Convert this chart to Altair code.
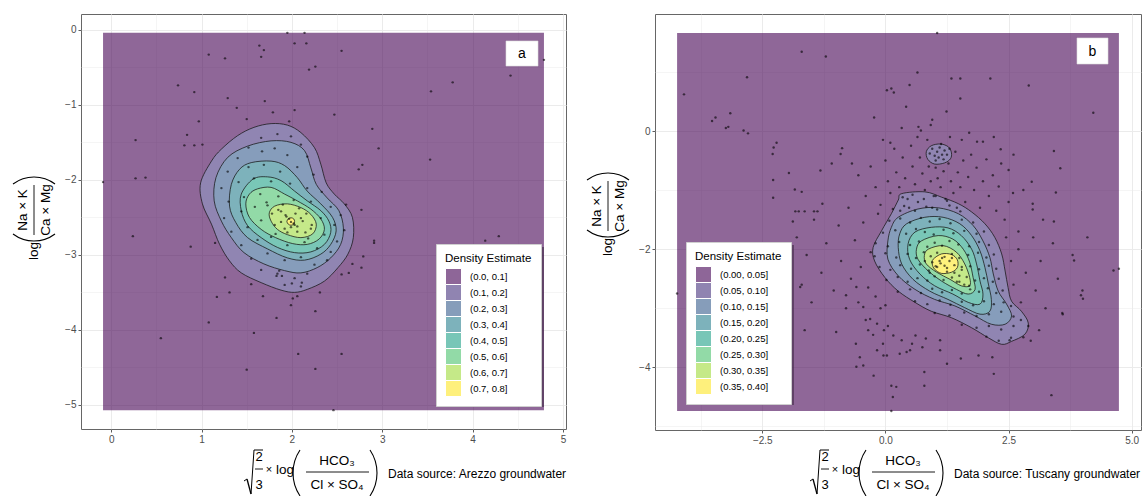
import altair as alt
import pandas as pd

FONT = "Liberation Sans"
VIRIDIS = ["#440154", "#46337E", "#365C8D", "#277F8E", "#1FA187", "#4AC16D", "#9FDA3A", "#FDE725"]
A_BANDS = ["(0.0, 0.1]", "(0.1, 0.2]", "(0.2, 0.3]", "(0.3, 0.4]",
           "(0.4, 0.5]", "(0.5, 0.6]", "(0.6, 0.7]", "(0.7, 0.8]"]
B_BANDS = ["(0.00, 0.05]", "(0.05, 0.10]", "(0.10, 0.15]", "(0.15, 0.20]",
           "(0.20, 0.25]", "(0.25, 0.30]", "(0.30, 0.35]", "(0.35, 0.40]"]
A_CAPTION = "Data source: Arezzo groundwater"
B_CAPTION = "Data source: Tuscany groundwater"

# ---------------- panel a: Arezzo ----------------
A_POINTS = [
    (1.95, -0.04), (2.14, -0.04), (1.64, -0.21), (1.69, -0.27), (2.03, -0.18), (2.16, -0.18),
    (1.66, -0.36), (2.55, -0.28), (1.08, -0.33), (1.26, -0.38), (2.19, -0.53), (2.26, -0.49),
    (4.79, -0.40), (4.42, -0.61), (3.78, -0.70), (0.74, -0.74), (0.92, -0.83), (3.54, -0.82),
    (1.29, -0.91), (1.70, -0.95), (1.39, -1.04), (1.79, -1.10), (2.03, -1.07), (2.47, -1.13),
    (1.50, -1.19), (1.97, -1.22), (0.97, -1.22), (2.89, -1.32), (0.84, -1.40), (2.96, -1.58),
    (0.81, -1.54), (0.92, -1.54), (1.01, -1.53), (3.53, -1.73), (0.27, -1.47), (2.78, -1.80),
    (2.74, -1.86), (-0.09, -2.03), (0.27, -1.98), (0.38, -1.97), (2.60, -2.33), (2.77, -2.40),
    (2.91, -2.81), (0.24, -2.75), (4.14, -2.81), (4.29, -2.75),
    (0.88, -2.89), (1.15, -2.84), (1.26, -3.30), (1.31, -3.50), (1.17, -3.56), (1.68, -3.55),
    (1.55, -3.39), (1.86, -3.21), (1.83, -3.28), (1.89, -3.28), (2.00, -3.38), (2.11, -3.37),
    (2.06, -3.55), (2.01, -3.58), (1.99, -3.67), (2.31, -3.50), (2.55, -3.26), (2.63, -3.24),
    (2.67, -3.12), (2.77, -3.17), (2.79, -3.02), (2.91, -2.84), (1.08, -3.90), (0.55, -4.11),
    (1.58, -4.04), (1.83, -3.84), (2.26, -3.75), (2.07, -4.32), (2.55, -4.32), (1.50, -4.53),
    (2.26, -4.52), (2.46, -5.07),
    (1.66, -1.44), (1.84, -1.39), (1.99, -1.42), (1.52, -1.57), (2.10, -1.53), (1.40, -1.71),
    (1.67, -1.62), (1.81, -1.58), (1.95, -1.67), (2.17, -1.69), (1.29, -1.89), (1.52, -1.83),
    (1.69, -1.80), (1.87, -1.89), (2.06, -1.83), (2.24, -1.93), (1.22, -2.11), (1.41, -2.03),
    (1.58, -1.98), (1.77, -2.02), (1.98, -2.05), (2.17, -2.11), (2.33, -2.16), (1.30, -2.29),
    (1.47, -2.23), (1.65, -2.19), (1.85, -2.22), (2.02, -2.27), (2.21, -2.29), (2.43, -2.36),
    (2.54, -2.47), (1.25, -2.51), (1.44, -2.42), (1.59, -2.36), (1.73, -2.34), (1.88, -2.42),
    (1.99, -2.56), (1.94, -2.49), (2.03, -2.60), (2.10, -2.51), (2.16, -2.45), (2.32, -2.51),
    (2.47, -2.60), (2.58, -2.67), (1.33, -2.69), (1.51, -2.63), (1.66, -2.54), (1.81, -2.60),
    (1.92, -2.65), (2.06, -2.69), (2.21, -2.65), (2.36, -2.73), (2.50, -2.82), (1.44, -2.87),
    (1.62, -2.80), (1.77, -2.76), (1.95, -2.87), (2.14, -2.83), (2.28, -2.91), (2.43, -2.96),
    (1.55, -3.05), (1.73, -2.98), (1.92, -3.07), (2.10, -3.03), (2.25, -3.13), (2.39, -3.07),
    (1.66, -3.20), (1.84, -3.25), (2.03, -3.31), (2.17, -3.25), (1.92, -3.40), (2.10, -3.42),
    (1.97, -2.52), (2.02, -2.58), (1.93, -2.47), (2.06, -2.62), (1.88, -2.56), (2.12, -2.55),
    (1.99, -2.63), (2.04, -2.45), (1.85, -2.40), (2.15, -2.70), (1.78, -2.45), (2.08, -2.38),
    (1.95, -2.70), (2.22, -2.60), (1.72, -2.30), (1.90, -2.33), (2.18, -2.78), (1.82, -2.72),
]

# contour polygons (level index, vertices in data units)
A_CONTOURS = [
    (1, [(1.77, -1.25), (1.95, -1.27), (2.10, -1.37), (2.25, -1.57), (2.32, -1.79), (2.38, -2.04),
         (2.47, -2.19), (2.58, -2.32), (2.67, -2.50), (2.68, -2.77), (2.62, -2.99), (2.51, -3.17),
         (2.36, -3.35), (2.17, -3.46), (2.03, -3.50), (1.88, -3.47), (1.66, -3.37), (1.44, -3.24),
         (1.31, -3.08), (1.20, -2.86), (1.11, -2.59), (1.01, -2.32), (0.99, -2.04), (1.11, -1.75),
         (1.22, -1.59), (1.40, -1.41), (1.58, -1.30)]),
    (2, [(1.51, -1.55), (1.77, -1.48), (1.99, -1.50), (2.14, -1.61), (2.21, -1.84), (2.27, -2.06),
         (2.39, -2.24), (2.52, -2.41), (2.57, -2.64), (2.54, -2.86), (2.43, -3.04), (2.28, -3.17),
         (2.10, -3.24), (1.92, -3.21), (1.69, -3.12), (1.47, -2.97), (1.33, -2.77), (1.22, -2.55),
         (1.14, -2.28), (1.16, -1.97), (1.29, -1.70)]),
    (3, [(1.55, -1.77), (1.77, -1.75), (1.92, -1.81), (2.06, -1.97), (2.17, -2.15), (2.32, -2.32),
         (2.45, -2.50), (2.49, -2.68), (2.43, -2.86), (2.32, -2.99), (2.14, -3.07), (1.95, -3.04),
         (1.73, -2.92), (1.51, -2.77), (1.38, -2.57), (1.31, -2.35), (1.33, -2.06), (1.42, -1.86)]),
    (4, [(1.57, -1.99), (1.73, -1.96), (1.88, -2.01), (2.03, -2.15), (2.17, -2.28), (2.32, -2.41),
         (2.41, -2.55), (2.43, -2.70), (2.36, -2.86), (2.21, -2.96), (2.03, -2.97), (1.84, -2.90),
         (1.66, -2.77), (1.51, -2.61), (1.44, -2.41), (1.44, -2.19)]),
    (5, [(1.62, -2.12), (1.77, -2.10), (1.92, -2.19), (2.06, -2.28), (2.21, -2.39), (2.32, -2.52),
         (2.36, -2.66), (2.30, -2.79), (2.17, -2.86), (2.01, -2.85), (1.82, -2.77), (1.66, -2.66),
         (1.53, -2.50), (1.49, -2.32), (1.53, -2.19)]),
    (6, [(1.81, -2.35), (1.95, -2.32), (2.10, -2.37), (2.21, -2.46), (2.27, -2.59), (2.23, -2.72),
         (2.10, -2.77), (1.95, -2.73), (1.84, -2.66), (1.77, -2.55), (1.75, -2.44)]),
    (7, [(2.03, -2.555), (2.02, -2.52), (1.99, -2.505), (1.96, -2.52), (1.945, -2.555),
         (1.96, -2.59), (1.99, -2.605), (2.02, -2.59)]),
]

# ---------------- panel b: Tuscany ----------------
B_POINTS = [
    (1.05, 1.66), (-1.70, 1.34), (-1.21, 1.26), (-2.81, 0.91), (-4.09, 0.62), (0.65, 0.99),
    (1.34, 0.89), (1.52, 0.89), (2.13, 0.89), (2.91, 0.77), (0.12, 0.72), (0.03, 0.69),
    (0.17, 0.65), (0.49, 0.78), (1.52, 0.55), (0.42, 0.41), (1.24, 0.33), (4.22, 0.31),
    (-0.23, 0.23), (-3.52, 0.17), (-3.45, 0.23), (-3.15, 0.30), (-3.19, 0.07), (-3.24, 0.05),
    (-2.88, 0.01), (-2.79, -0.04), (0.33, 0.05), (0.67, 0.07), (0.72, 0.01), (0.92, 0.10),
    (0.95, 0.19), (1.31, -0.10), (1.70, -0.03), (1.86, -0.18), (1.98, -0.18), (2.34, -0.31),
    (3.42, -0.34), (3.55, -0.63), (3.46, -1.04), (2.97, -0.86), (2.50, -0.66), (2.30, -0.94),
    (2.59, -1.05), (2.99, -1.23), (2.99, -1.33), (3.42, -1.53), (-2.21, -0.20), (-2.27, -0.28),
    (-2.29, -0.39), (-1.96, -0.71), (-2.28, -0.83), (-2.28, -1.13), (-1.84, -0.99), (-1.70, -1.03),
    (-1.83, -1.36), (-1.76, -1.36), (-1.64, -1.36), (-1.45, -1.36), (-1.38, -1.36), (-1.88, -1.53),
    (-1.28, -1.23), (-1.32, -0.67), (-1.09, -0.55), (-0.88, -0.29), (-0.91, -0.39), (-0.68, -0.55),
    (0.95, -0.30), (1.05, -0.35), (1.15, -0.40), (1.10, -0.28), (1.20, -0.33), (1.00, -0.42),
    (1.08, -0.45), (1.25, -0.40), (0.90, -0.38), (1.13, -0.22), (1.30, -0.30), (1.02, -0.50),
    (1.18, -0.48),
    (-0.55, -0.75), (-0.40, -1.10), (-0.30, -0.60), (-0.20, -0.95), (-0.10, -1.25), (0.00, -0.50),
    (0.05, -0.85), (0.10, -1.05), (0.18, -0.30), (0.22, -0.70), (0.28, -0.95), (0.35, -0.45),
    (0.40, -0.80), (0.45, -1.15), (0.52, -0.25), (0.55, -0.60), (0.60, -0.90), (0.66, -1.20),
    (0.70, -0.45), (0.75, -0.72), (0.80, -1.00), (0.85, -0.15), (0.88, -0.60), (0.92, -0.85),
    (0.98, -1.10), (1.02, -0.62), (1.06, -0.80), (1.12, -0.95), (1.18, -0.68), (1.22, -1.15),
    (1.28, -0.55), (1.33, -0.85), (1.38, -1.05), (1.42, -0.35), (1.47, -0.70), (1.52, -0.95),
    (1.58, -0.50), (1.62, -1.20), (1.68, -0.78), (1.74, -0.40), (1.80, -1.00), (1.85, -0.62),
    (1.92, -1.30), (1.98, -0.85), (2.05, -0.48), (2.10, -1.10), (2.18, -0.75), (2.25, -1.35),
    (2.35, -0.55), (2.42, -1.50), (2.50, -1.20), (2.60, -0.40), (2.70, -1.70), (2.80, -1.00),
    (0.48, -1.30), (0.30, -1.35), (0.95, -1.30), (1.45, -1.30), (0.10, -0.20), (-0.05, -0.15),
    (0.65, -0.10), (1.55, -0.15), (2.20, -0.10),
    (-1.80, -1.80), (-1.60, -2.10), (-1.45, -1.50), (-1.30, -2.40), (-1.20, -1.90), (-1.05, -2.70),
    (-0.95, -1.60), (-0.90, -2.20), (-0.80, -3.00), (-0.75, -1.30), (-0.70, -2.50), (-0.62, -1.85),
    (-0.55, -2.90), (-0.50, -2.30), (-0.45, -1.55), (-0.40, -3.20), (-0.35, -2.65), (-0.30, -2.05),
    (-0.25, -3.45), (-0.20, -2.80), (-0.15, -1.40), (-0.10, -3.00), (-0.05, -3.60), (0.00, -2.95),
    (0.05, -3.30), (-1.00, -3.40), (-1.50, -2.90), (-0.60, -3.60), (-2.20, -2.20), (-2.60, -1.90),
    (-3.30, -2.40), (-1.70, -2.60),
    (2.45, -1.80), (2.55, -2.20), (2.60, -2.60), (2.70, -2.00), (2.75, -2.90), (2.85, -2.40),
    (2.90, -3.30), (3.00, -1.80), (3.05, -2.70), (3.15, -2.20), (3.25, -3.00), (3.40, -1.90),
    (3.50, -2.50), (3.60, -3.10), (3.80, -2.10), (4.00, -2.70), (4.10, -1.80), (4.74, -2.33),
    (3.20, -1.50), (2.95, -3.55),
    (-0.52, -3.83), (-0.24, -4.14), (0.12, -4.31), (0.22, -4.33), (0.15, -4.50), (0.79, -4.08),
    (0.79, -4.31), (1.25, -3.94), (2.20, -4.11), (3.37, -4.47), (-0.59, -3.99), (-0.45, -3.97),
    (-0.17, -3.71), (-0.04, -3.80), (0.03, -3.80), (0.29, -3.77), (0.43, -3.74), (0.50, -3.71),
    (0.75, -3.66), (1.11, -3.71), (1.53, -3.85), (1.89, -3.80), (2.17, -3.83), (2.52, -3.54),
    (2.80, -3.49), (3.12, -3.37), (3.59, -3.08), (3.97, -2.78), (4.01, -2.84), (3.83, -2.19),
    (4.63, -2.36), (-4.23, -2.75), (-1.64, -3.37), (-1.73, -2.64), (-0.80, -2.78), (-0.59, -2.64),
    (-0.45, -2.98), (-0.31, -3.18), (-0.35, -3.37), (-0.17, -3.26), (-0.03, -3.37), (0.16, -3.46),
    (0.33, -3.54), (0.54, -3.60), (0.61, -3.46), (0.82, -3.51), (1.11, -3.54), (0.12, -4.74),
    (0.35, -1.12), (0.55, -1.08), (0.78, -1.15), (1.02, -1.10), (1.25, -1.18),
    (0.15, -1.32), (0.38, -1.27), (0.60, -1.35), (0.83, -1.28), (1.05, -1.33), (1.30, -1.26), (1.52, -1.36),
    (0.08, -1.52), (0.30, -1.48), (0.50, -1.55), (0.72, -1.47), (0.90, -1.53), (1.10, -1.49),
    (1.32, -1.56), (1.55, -1.50), (1.78, -1.55),
    (-0.05, -1.72), (0.20, -1.68), (0.42, -1.74), (0.62, -1.66), (0.80, -1.71), (0.98, -1.75),
    (1.18, -1.67), (1.38, -1.73), (1.60, -1.69), (1.85, -1.74), (2.00, -1.70),
    (-0.20, -1.90), (0.05, -1.95), (0.28, -1.88), (0.50, -1.93), (0.68, -1.87), (0.85, -1.96),
    (1.00, -1.89), (1.15, -1.94), (1.30, -1.86), (1.48, -1.92), (1.70, -1.95), (1.90, -1.88), (2.10, -1.93),
    (-0.22, -2.12), (0.00, -2.07), (0.22, -2.14), (0.45, -2.08), (0.62, -2.15), (0.78, -2.05),
    (0.92, -2.12), (1.05, -2.06), (1.20, -2.13), (1.35, -2.08), (1.50, -2.15), (1.68, -2.10),
    (1.88, -2.06), (2.05, -2.14), (2.20, -2.09),
    (-0.12, -2.30), (0.10, -2.35), (0.30, -2.27), (0.52, -2.33), (0.70, -2.26), (0.88, -2.36),
    (1.02, -2.29), (1.12, -2.24), (1.25, -2.32), (1.40, -2.27), (1.55, -2.35), (1.72, -2.29),
    (1.90, -2.34), (2.10, -2.28), (2.25, -2.33),
    (0.02, -2.52), (0.25, -2.47), (0.45, -2.55), (0.65, -2.49), (0.85, -2.53), (1.00, -2.46),
    (1.18, -2.52), (1.35, -2.48), (1.50, -2.55), (1.65, -2.47), (1.82, -2.53), (2.00, -2.49),
    (2.18, -2.55), (2.30, -2.50),
    (0.25, -2.72), (0.50, -2.68), (0.72, -2.74), (0.95, -2.67), (1.15, -2.73), (1.35, -2.69),
    (1.55, -2.75), (1.72, -2.68), (1.90, -2.72), (2.08, -2.66), (2.25, -2.74), (2.38, -2.70),
    (0.60, -2.88), (0.85, -2.93), (1.10, -2.87), (1.32, -2.94), (1.55, -2.89), (1.78, -2.95),
    (2.00, -2.88), (2.20, -2.93), (2.40, -2.90), (2.55, -2.96),
    (1.00, -3.08), (1.30, -3.12), (1.60, -3.07), (1.85, -3.13), (2.10, -3.10), (2.35, -3.06),
    (2.60, -3.14), (2.75, -3.20), (1.55, -3.28), (1.85, -3.33), (2.10, -3.30), (2.35, -3.36),
    (2.60, -3.30), (2.05, -3.48), (2.30, -3.55), (2.55, -3.50),
    (1.10, -2.20), (1.20, -2.28), (1.05, -2.30), (1.30, -2.20), (1.15, -2.15), (0.95, -2.22),
    (1.25, -2.38), (1.40, -2.40), (1.50, -2.45), (1.60, -2.60), (1.45, -2.55), (1.70, -2.62),
    (0.80, -2.20), (0.90, -2.40), (1.35, -2.15), (1.55, -2.30),
]

B_CONTOURS = [
    (1, [(0.33, -1.06), (0.80, -1.03), (1.14, -1.12), (1.48, -1.23), (1.75, -1.37), (2.02, -1.57),
         (2.22, -1.80), (2.36, -2.08), (2.43, -2.37), (2.49, -2.65), (2.56, -2.88), (2.76, -3.05),
         (2.90, -3.25), (2.83, -3.44), (2.56, -3.56), (2.36, -3.61), (2.09, -3.50), (1.75, -3.33),
         (1.34, -3.16), (0.93, -3.05), (0.60, -2.90), (0.26, -2.71), (-0.01, -2.48), (-0.22, -2.20),
         (-0.25, -1.97), (-0.08, -1.69), (0.12, -1.40), (0.26, -1.17)]),
    (1, [(1.34, -0.37), (1.28, -0.27), (1.12, -0.22), (0.93, -0.25), (0.83, -0.35), (0.86, -0.48),
         (1.00, -0.56), (1.20, -0.54), (1.32, -0.47)]),
    (2, [(0.26, -1.46), (0.66, -1.32), (1.07, -1.30), (1.48, -1.40), (1.78, -1.60), (1.98, -1.86),
         (2.12, -2.14), (2.19, -2.42), (2.29, -2.71), (2.46, -2.93), (2.56, -3.13), (2.43, -3.27),
         (2.15, -3.27), (1.82, -3.13), (1.41, -2.96), (1.00, -2.85), (0.60, -2.68), (0.26, -2.45),
         (0.05, -2.17), (0.05, -1.86), (0.12, -1.63)]),
    (3, [(0.43, -1.57), (0.80, -1.46), (1.17, -1.46), (1.51, -1.57), (1.75, -1.77), (1.92, -2.03),
         (2.02, -2.31), (2.09, -2.59), (2.15, -2.85), (2.12, -3.05), (1.92, -3.10), (1.61, -2.99),
         (1.27, -2.85), (0.90, -2.71), (0.56, -2.51), (0.33, -2.25), (0.26, -1.97), (0.29, -1.74)]),
    (4, [(0.60, -1.71), (0.93, -1.63), (1.27, -1.64), (1.54, -1.77), (1.75, -2.00), (1.85, -2.25),
         (1.92, -2.54), (1.98, -2.76), (1.92, -2.93), (1.68, -2.90), (1.37, -2.76), (1.00, -2.62),
         (0.70, -2.42), (0.49, -2.17), (0.46, -1.91)]),
    (5, [(0.73, -1.86), (1.07, -1.77), (1.37, -1.83), (1.58, -2.00), (1.71, -2.22), (1.78, -2.48),
         (1.82, -2.68), (1.68, -2.76), (1.44, -2.68), (1.14, -2.54), (0.87, -2.37), (0.66, -2.17),
         (0.63, -2.00)]),
    (6, [(0.87, -2.00), (1.17, -1.94), (1.44, -2.05), (1.61, -2.25), (1.71, -2.48), (1.71, -2.62),
         (1.54, -2.62), (1.31, -2.51), (1.04, -2.39), (0.83, -2.25), (0.79, -2.11)]),
    (7, [(0.97, -2.17), (1.14, -2.08), (1.34, -2.09), (1.46, -2.18), (1.46, -2.31), (1.34, -2.39),
         (1.14, -2.41), (1.00, -2.34), (0.95, -2.25)]),
]


def blend(c, a=0.6):
    rgb = [int(c[i:i + 2], 16) for i in (1, 3, 5)]
    return "#%02x%02x%02x" % tuple(int(round(a * v + (1 - a) * 255)) for v in rgb)


one = pd.DataFrame({"k": [0]})


def txt(s, x, y, size=13.5, angle=0, align="center", baseline="middle"):
    return alt.Chart(one).mark_text(text=s, font=FONT, fontSize=size, angle=angle, align=align,
                                    baseline=baseline, color="black").encode(
        x=alt.value(x), y=alt.value(y))


def seg(x1, y1, x2, y2, w=1.0):
    return alt.Chart(one).mark_rule(color="black", strokeWidth=w).encode(
        x=alt.value(x1), y=alt.value(y1), x2=alt.value(x2), y2=alt.value(y2))


def arc(cx, cy, r, t0, t1):
    return alt.Chart(one).mark_arc(theta=t0, theta2=t1, radius=r + 0.55, radius2=r - 0.55,
                                   color="black").encode(x=alt.value(cx), y=alt.value(cy))


def box(x1, y1, x2, y2, fill, stroke=None, opacity=1.0):
    kw = dict(fill=fill, opacity=opacity)
    if stroke:
        kw.update(stroke=stroke, strokeWidth=0.6)
    return alt.Chart(one).mark_rect(**kw).encode(
        x=alt.value(x1), y=alt.value(y1), x2=alt.value(x2), y2=alt.value(y2))


def make_axis(values, test, fmt, pad):
    return alt.Axis(
        values=values, title=None, domain=False, grid=True,
        gridColor="#EBEBEB",
        gridWidth={"condition": {"test": test, "value": 1.0}, "value": 0.5},
        tickColor={"condition": {"test": test, "value": "#333333"}, "value": "transparent"},
        tickSize=3, tickWidth=0.8,
        labelExpr=f"({test}) ? format(datum.value, '{fmt}') : ''",
        labelFont=FONT, labelFontSize=10, labelColor="#4D4D4D", labelPadding=pad,
        labelFlush=False, labelOverlap=False)


def panel(points, contours, bands, field, xvals, xtest, xfmt, yvals, ytest, yfmt,
          W, H, legxy, tag, tagbox, caption, cdx, ty):
    pdf = pd.DataFrame(points, columns=["x", "y"])
    x0, x1 = pdf.x.min(), pdf.x.max()
    y0, y1 = pdf.y.min(), pdf.y.max()
    ex, ey = 0.05 * (x1 - x0), 0.05 * (y1 - y0)
    xs = alt.Scale(domain=[x0 - ex, x1 + ex], nice=False, zero=False)
    ys = alt.Scale(domain=[y0 - ey, y1 + ey], nice=False, zero=False)
    xa = make_axis(xvals, xtest, xfmt, 2)
    ya = make_axis(yvals, ytest, yfmt, 2)

    def X(f):
        return alt.X(f, type="quantitative", scale=xs, axis=xa)

    def Y(f):
        return alt.Y(f, type="quantitative", scale=ys, axis=ya)

    rect_df = pd.DataFrame({"x0": [x0], "x1": [x1], "y0": [y0], "y1": [y1], field: [bands[0]]})
    legend = alt.Legend(
        orient="none", legendX=legxy[0], legendY=legxy[1], title="Density Estimate",
        fillColor="white", strokeColor="#cfcfcf", padding=9, symbolType="square",
        symbolSize=256, symbolOpacity=0.6, symbolStrokeColor="white", symbolStrokeWidth=1,
        clipHeight=16,
        labelFont=FONT, labelFontSize=9.5, labelColor="black", labelOffset=8,
        titleFont=FONT, titleFontSize=11.5, titleFontWeight="normal", titleColor="black",
        titlePadding=4, rowPadding=0)
    layers = [
        alt.Chart(rect_df).mark_rect(opacity=0.6).encode(
            x=X("x0"), x2="x1", y=Y("y0"), y2="y1",
            fill=alt.Fill(f"{field}:N", scale=alt.Scale(domain=bands, range=VIRIDIS),
                          legend=legend))
    ]
    rows = []
    for pid, (lev, pts) in enumerate(contours):
        for i, (x, y) in enumerate(pts):
            rows.append({"pid": pid, "lev": lev, "i": i, "x": x, "y": y})
    cdf = pd.DataFrame(rows)
    for lev in sorted(cdf.lev.unique()):
        sub = cdf[cdf.lev == lev]
        layers.append(alt.Chart(sub).mark_line(
            fill=blend(VIRIDIS[lev]), stroke="#151515", strokeWidth=0.75,
            interpolate="cardinal-closed").encode(
            x=X("x"), y=Y("y"), order="i:Q", detail="pid:N"))
    layers.append(alt.Chart(pdf).mark_circle(size=6, color="black", opacity=0.6).encode(
        x=X("x"), y=Y("y")))

    # legend shadow
    lx, ly = legxy
    layers.append(box(lx + 3, ly + 3, lx + 108, ly + 163, "#3b2440", opacity=0.55))
    # panel tag
    layers.append(box(*tagbox, "white", stroke="#dddddd"))
    layers.append(txt(tag, (tagbox[0] + tagbox[2]) / 2, (tagbox[1] + tagbox[3]) / 2 + 0.5, size=14))

    # x title: sqrt(2/3) x log(HCO3 / (Cl x SO4))
    d = cdx
    layers += [
        seg(163 + d, 467, 166 + d, 465), seg(166 + d, 465, 170 + d, 480, 1.3),
        seg(170 + d, 480, 173 + d, 436), seg(173 + d, 436, 182 + d, 436),
        txt("2", 178 + d, 443, 13), txt("3", 178 + d, 471, 13),
        seg(174 + d, 455, 182 + d, 455, 0.9),
        txt("×", 188 + d, 456, 11), txt("log", 204 + d, 456, 13.5),
        arc(253.3 + d, 459, 41.3, 4.121, 5.303), arc(254.7 + d, 459, 41.3, 0.980, 2.162),
        seg(225 + d, 458, 288 + d, 458, 0.9),
        txt("HCO₃", 256 + d, 447), txt("Cl × SO₄", 256 + d, 471),
        txt(caption, 307 + d, 460, 12, align="left"),
    ]
    # y title: log(Na x K / Ca x Mg)
    layers += [
        txt("log", -47, 237 + ty, 13.5, angle=270),
        txt("Na × K", -58, 196 + ty, 13.5, angle=270),
        txt("Ca × Mg", -35, 196 + ty, 13.5, angle=270),
        seg(-47, 171 + ty, -47, 221 + ty, 0.9),
        arc(-47, 192 + ty, 35, 2.498, 3.785),
        arc(-47, 198 + ty, 35, 5.640, 6.927),
    ]
    return alt.layer(*layers).properties(width=W, height=H)


pa = panel(A_POINTS, A_CONTOURS, A_BANDS, "band_a",
           [i * 0.5 for i in range(0, 11)], "abs(datum.value - round(datum.value)) < 0.001", "d",
           [-i * 0.5 for i in range(0, 11)], "abs(datum.value - round(datum.value)) < 0.001", "d",
           485, 415, (355, 230), "a", (425, 27, 457, 52), A_CAPTION, 0, 0)
pb = panel(B_POINTS, B_CONTOURS, B_BANDS, "band_b",
           [-3.75, -2.5, -1.25, 0.0, 1.25, 2.5, 3.75, 5.0],
           "abs(datum.value / 2.5 - round(datum.value / 2.5)) < 0.001", ".1f",
           [1, 0, -1, -2, -3, -4, -5],
           "abs(datum.value / 2 - round(datum.value / 2)) < 0.001", "d",
           486, 416, (31, 228), "b", (422, 24, 453, 50), B_CAPTION, -8, -4)

chart = alt.hconcat(pa, pb, spacing=18).resolve_scale(
    x="independent", y="independent", fill="independent"
).resolve_legend(fill="independent").configure_view(
    stroke="#666666", strokeWidth=1
).properties(
    padding={"left": 12, "top": 13, "right": 0, "bottom": 0}, background="white"
)

chart.save("out.html", embed_options={"renderer": "svg", "actions": False})
